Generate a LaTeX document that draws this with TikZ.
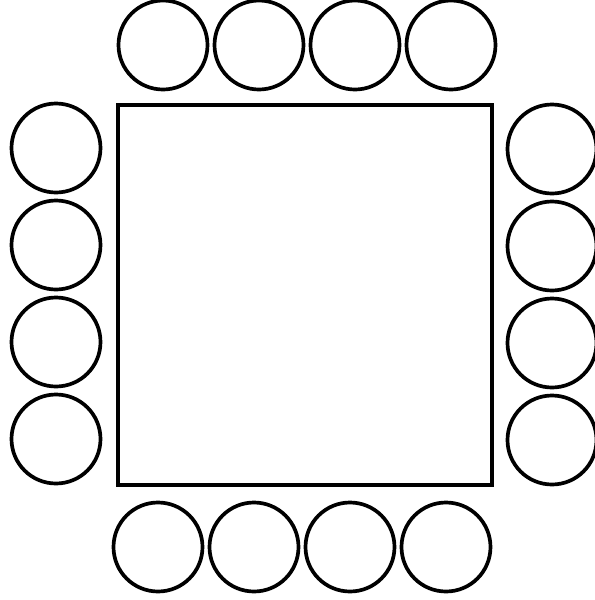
\documentclass[tikz,border=0pt]{standalone}
\usepackage{tikz}
\usetikzlibrary{positioning}

\begin{document}
\begin{tikzpicture}[node distance=1.92cm]
    % Styles
    \tikzstyle{table} = [rectangle, draw, line width=2.5pt, minimum width=7.48cm, minimum height=7.6cm, inner sep=0pt]
    \tikzstyle{seat} = [circle, draw, line width=2.1pt, minimum size=1.78cm, inner sep=0pt]

    \useasboundingbox (0,0) rectangle (11.9,-12);

    % Table
    \node [table] (tab) at (6.1,-5.9) {};

    % Top seats
    \node [seat] (t1) at (3.26,-0.9) {};
    \node [seat, right of=t1] (t2) {};
    \node [seat, right of=t2] (t3) {};
    \node [seat, right of=t3] (t4) {};

    % Bottom seats
    \node [seat] (b1) at (3.16,-10.94) {};
    \node [seat, right of=b1] (b2) {};
    \node [seat, right of=b2] (b3) {};
    \node [seat, right of=b3] (b4) {};

    % Left seats
    \node [seat] (l1) at (1.12,-2.96) {};
    \node [seat, below of=l1, node distance=1.94cm] (l2) {};
    \node [seat, below of=l2, node distance=1.94cm] (l3) {};
    \node [seat, below of=l3, node distance=1.94cm] (l4) {};

    % Right seats
    \node [seat] (r1) at (11.04,-2.98) {};
    \node [seat, below of=r1, node distance=1.94cm] (r2) {};
    \node [seat, below of=r2, node distance=1.94cm] (r3) {};
    \node [seat, below of=r3, node distance=1.94cm] (r4) {};
\end{tikzpicture}
\end{document}
